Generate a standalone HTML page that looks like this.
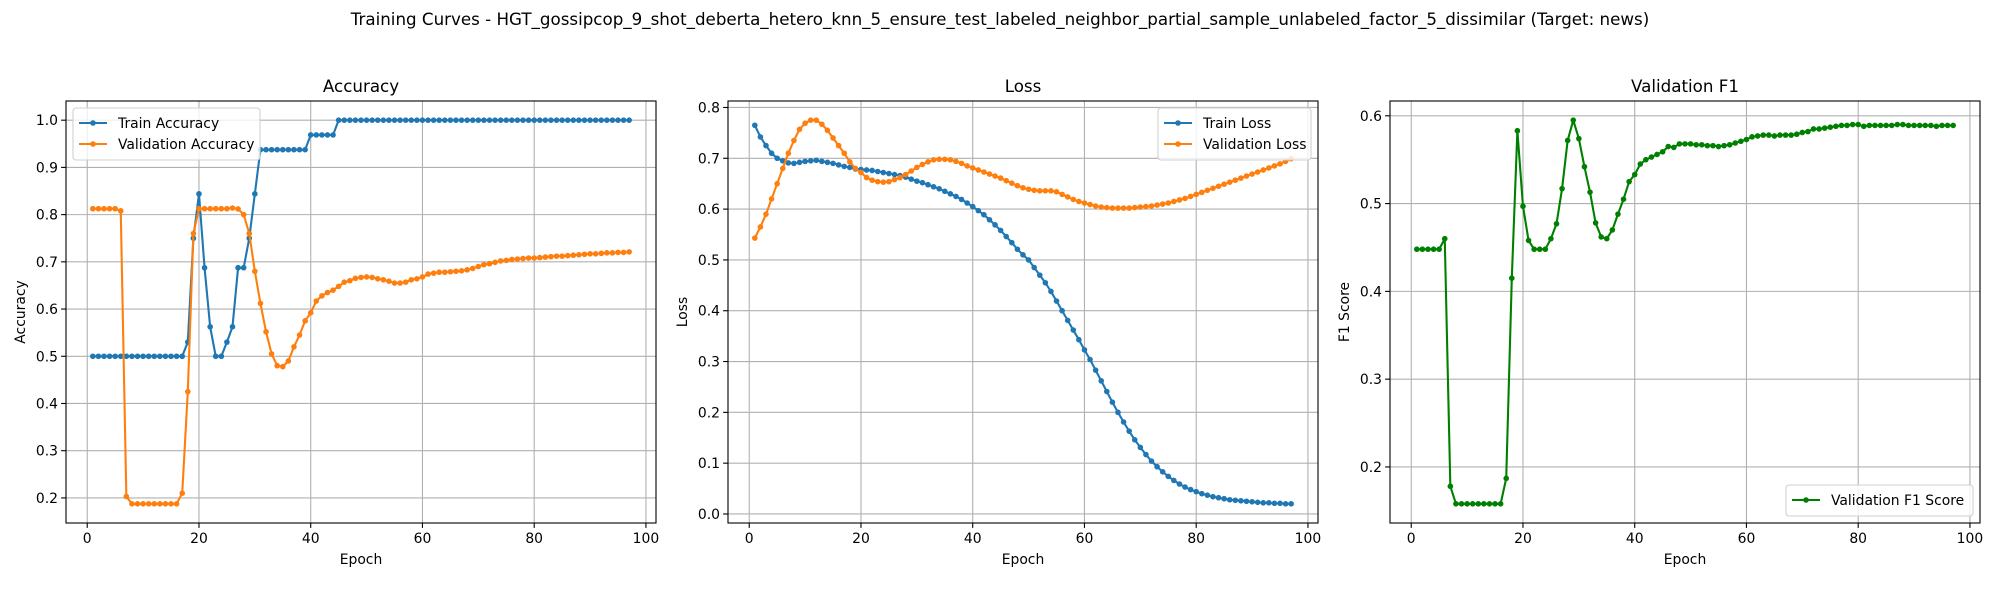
<!DOCTYPE html>
<html><head><meta charset="utf-8"><style>
body{margin:0;background:#fff;}
svg{display:block;font-family:"DejaVu Sans","Liberation Sans",sans-serif;}
</style></head><body>
<svg id="fig" width="2000" height="600" xmlns="http://www.w3.org/2000/svg">
<text x="1000" y="25" text-anchor="middle" font-size="16.7">Training Curves - HGT_gossipcop_9_shot_deberta_hetero_knn_5_ensure_test_labeled_neighbor_partial_sample_unlabeled_factor_5_dissimilar (Target: news)</text>
</svg>
<script>
const epochs = Array.from({length:97},(_,i)=>i+1);
const trainAcc = [0.5,0.5,0.5,0.5,0.5,0.5,0.5,0.5,0.5,0.5,0.5,0.5,0.5,0.5,0.5,0.5,0.5,0.53,0.75,0.844,0.6875,0.5625,0.5,0.5,0.53,0.5625,0.6875,0.6875,0.75,0.844,
0.9375,0.9375,0.9375,0.9375,0.9375,0.9375,0.9375,0.9375,0.9375,0.96875,0.96875,0.96875,0.96875,0.96875,
1,1,1,1,1,1,1,1,1,1,1,1,1,1,1,1,1,1,1,1,1,1,1,1,1,1,1,1,1,1,1,1,1,1,1,1,1,1,1,1,1,1,1,1,1,1,1,1,1,1,1,1,1];
const valAcc = [0.8125,0.8125,0.8125,0.8125,0.8125,0.808,0.203,0.1875,0.1875,0.1875,0.1875,0.1875,0.1875,0.1875,0.1875,0.1875,0.21,0.425,0.76,0.8125,
0.8125,0.8125,0.8125,0.8125,0.8125,0.814,0.812,0.80,0.76,0.68,0.612,0.552,0.505,0.48,0.478,0.49,0.52,0.545,0.575,0.592,
0.617,0.628,0.635,0.64,0.648,0.657,0.66,0.665,0.667,0.668,0.667,0.664,0.662,0.659,0.655,0.655,0.657,0.662,0.664,0.668,
0.674,0.676,0.678,0.678,0.679,0.68,0.681,0.683,0.686,0.69,0.694,0.696,0.699,0.702,0.703,0.705,0.706,0.707,0.708,0.708,
0.709,0.710,0.711,0.712,0.712,0.713,0.714,0.715,0.716,0.717,0.717,0.718,0.719,0.719,0.720,0.720,0.721];
const trainLoss = [0.765,0.742,0.725,0.71,0.70,0.695,0.691,0.69,0.692,0.694,0.695,0.696,0.694,0.692,0.690,0.687,0.684,0.682,0.679,0.678,
0.677,0.676,0.674,0.672,0.67,0.668,0.666,0.663,0.659,0.655,0.652,0.648,0.644,0.640,0.635,0.630,0.625,0.619,0.612,0.605,
0.597,0.589,0.579,0.569,0.558,0.546,0.534,0.521,0.51,0.50,0.485,0.47,0.455,0.438,0.419,0.40,0.381,0.362,0.343,0.323,
0.304,0.283,0.262,0.241,0.22,0.20,0.181,0.163,0.146,0.131,0.117,0.104,0.093,0.083,0.074,0.066,0.059,0.053,0.048,0.044,
0.040,0.037,0.034,0.032,0.030,0.028,0.027,0.026,0.025,0.024,0.023,0.022,0.022,0.021,0.021,0.02,0.02];
const valLoss = [0.543,0.565,0.59,0.62,0.65,0.68,0.71,0.735,0.757,0.769,0.775,0.775,0.767,0.755,0.74,0.725,0.71,0.693,0.68,0.672,
0.662,0.657,0.654,0.653,0.654,0.658,0.662,0.668,0.675,0.682,0.688,0.693,0.697,0.698,0.698,0.697,0.694,0.69,0.685,0.681,
0.677,0.673,0.669,0.665,0.661,0.656,0.651,0.646,0.642,0.639,0.637,0.636,0.636,0.636,0.634,0.629,0.624,0.619,0.615,0.612,
0.609,0.606,0.604,0.603,0.602,0.602,0.602,0.602,0.603,0.604,0.605,0.606,0.608,0.61,0.612,0.615,0.618,0.621,0.625,0.629,
0.633,0.637,0.641,0.645,0.649,0.653,0.657,0.661,0.665,0.669,0.673,0.677,0.681,0.685,0.689,0.694,0.699];
const valF1 = [0.448,0.448,0.448,0.448,0.448,0.46,0.178,0.158,0.158,0.158,0.158,0.158,0.158,0.158,0.158,0.158,0.187,0.415,0.583,0.497,
0.458,0.448,0.448,0.448,0.46,0.477,0.517,0.572,0.595,0.574,0.542,0.513,0.478,0.462,0.46,0.47,0.488,0.505,0.525,0.533,
0.545,0.55,0.553,0.556,0.559,0.565,0.564,0.568,0.568,0.568,0.567,0.567,0.566,0.566,0.565,0.566,0.567,0.569,0.571,0.573,
0.576,0.577,0.578,0.578,0.577,0.578,0.578,0.578,0.579,0.581,0.582,0.585,0.585,0.586,0.587,0.588,0.589,0.589,0.59,0.59,
0.588,0.589,0.589,0.589,0.589,0.589,0.59,0.59,0.589,0.589,0.589,0.589,0.589,0.588,0.589,0.589,0.589];
const xTicks = [0,20,40,60,80,100];
const accTicks = [0.2,0.3,0.4,0.5,0.6,0.7,0.8,0.9,1.0];
const lossTicks = [0.0,0.1,0.2,0.3,0.4,0.5,0.6,0.7,0.8];
const f1Ticks = [0.2,0.3,0.4,0.5,0.6];

const NS="http://www.w3.org/2000/svg";
const fig=document.getElementById('fig');
function el(tag,attrs,parent){const e=document.createElementNS(NS,tag);for(const k in attrs)e.setAttribute(k,attrs[k]);(parent||fig).appendChild(e);return e;}
function lim(arrs){let mn=Infinity,mx=-Infinity;arrs.forEach(a=>a.forEach(v=>{mn=Math.min(mn,v);mx=Math.max(mx,v);}));const m=(mx-mn)*0.05;return [mn-m,mx+m];}
const TOP=101,BOT=523,W=590;

function panel(name,left,title,ylabel,series,yticks,dec,legendPos){
  const g=el('g',{});
  
  
  const [xmin,xmax]=lim([epochs]);
  const [ymin,ymax]=lim(series.map(s=>s.data));
  const X=v=>left+(v-xmin)/(xmax-xmin)*W;
  const Y=v=>BOT-(v-ymin)/(ymax-ymin)*(BOT-TOP);
  xTicks.forEach(t=>{
    const x=X(t);
    const gl=el('line',{x1:x,x2:x,y1:TOP,y2:BOT,stroke:'#b0b0b0','stroke-width':1.1},g);
    
    
    el('line',{x1:x,x2:x,y1:BOT,y2:BOT+4.9,stroke:'#000','stroke-width':1.1},g);
    const tl=el('text',{x:x,y:BOT+20,'text-anchor':'middle','font-size':13.9},g);
    tl.textContent=t;
    
    
  });
  yticks.forEach(t=>{
    const y=Y(t);
    const gl=el('line',{x1:left,x2:left+W,y1:y,y2:y,stroke:'#b0b0b0','stroke-width':1.1},g);
    
    
    el('line',{x1:left-4.9,x2:left,y1:y,y2:y,stroke:'#000','stroke-width':1.1},g);
    const tl=el('text',{x:left-8,y:y+5,'text-anchor':'end','font-size':13.9},g);
    tl.textContent=t.toFixed(dec);
    
    
  });
  series.forEach(s=>{
    const sg=el('g',{},g);
    
    
    el('polyline',{points:s.data.map((v,i)=>X(epochs[i])+','+Y(v)).join(' '),fill:'none',stroke:s.color,'stroke-width':2.1,'stroke-linejoin':'round'},sg);
    s.data.forEach((v,i)=>{el('circle',{cx:X(epochs[i]),cy:Y(v),r:2.8,fill:s.color},sg);});
  });
  const fr=el('rect',{x:left,y:TOP,width:W,height:BOT-TOP,fill:'none',stroke:'#000','stroke-width':1.1},g);
  
  
  const tt=el('text',{x:left+W/2,y:92,'text-anchor':'middle','font-size':16.7},g);
  tt.textContent=title;
  
  
  const xl=el('text',{x:left+W/2,y:564,'text-anchor':'middle','font-size':13.9},g);
  xl.textContent='Epoch';
  
  
  const yx=left-41, yy=(TOP+BOT)/2;
  const yl=el('text',{x:yx,y:yy,'text-anchor':'middle','font-size':13.9,transform:`rotate(-90 ${yx} ${yy})`},g);
  yl.textContent=ylabel;
  
  
  const lw=legendPos.w, lh=series.length*21+10;
  const lx=legendPos.right?left+W-7-lw:left+7;
  const ly=legendPos.bottom?BOT-7-lh:TOP+7;
  const lg=el('g',{},g);
  
  
  el('rect',{x:lx,y:ly,width:lw,height:lh,rx:3,fill:'#fff','fill-opacity':0.8,stroke:'#d0d0d0','stroke-width':1.1},lg);
  series.forEach((s,i)=>{
    const cy=ly+15+i*21;
    const e=el('g',{},lg);
    
    
    el('line',{x1:lx+6,x2:lx+34,y1:cy,y2:cy,stroke:s.color,'stroke-width':2.1},e);
    el('circle',{cx:lx+20,cy:cy,r:2.8,fill:s.color},e);
    const t=el('text',{x:lx+45,y:cy+5,'font-size':13.9},e);
    t.textContent=s.label;
  });
}
panel('accuracy',66,'Accuracy','Accuracy',[
  {id:'train-accuracy-line',label:'Train Accuracy',color:'#1f77b4',data:trainAcc},
  {id:'validation-accuracy-line',label:'Validation Accuracy',color:'#ff7f0e',data:valAcc}],accTicks,1,{w:187});
panel('loss',728,'Loss','Loss',[
  {id:'train-loss-line',label:'Train Loss',color:'#1f77b4',data:trainLoss},
  {id:'validation-loss-line',label:'Validation Loss',color:'#ff7f0e',data:valLoss}],lossTicks,1,{w:153,right:true});
panel('f1',1390,'Validation F1','F1 Score',[
  {id:'validation-f1-line',label:'Validation F1 Score',color:'#008000',data:valF1}],f1Ticks,1,{w:187,right:true,bottom:true});
</script>
</body></html>
